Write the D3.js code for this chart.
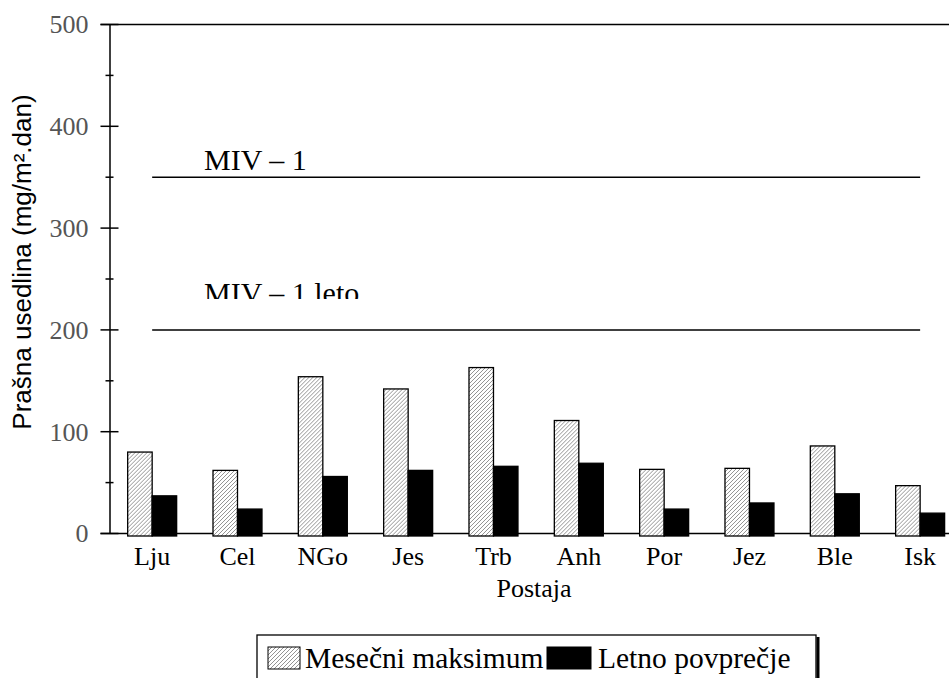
<!DOCTYPE html>
<html>
<head>
<meta charset="utf-8">
<script src="https://cdn.jsdelivr.net/npm/d3@7"></script>
<style>
  body { margin: 0; background: #fff; }
  svg { display: block; }
</style>
</head>
<body>
<script>
// data
let stations = ["Lju", "Cel", "NGo", "Jes", "Trb", "Anh", "Por", "Jez", "Ble", "Isk"];
let mesecniMax = [80, 62, 154, 142, 163, 111, 63, 64, 86, 47];
let letnoPovp = [37, 24, 56, 62, 66, 69, 24, 30, 39, 20];
let seriesNames = ["Mesečni maksimum", "Letno povprečje"];
let limitValues = [350, 200];
let limitLabels = ["MIV – 1", "MIV – 1 leto"];
let majorTicks = [0, 100, 200, 300, 400, 500];
let minorTicks = [50, 150, 250, 350, 450];

let svg = d3.select("body").append("svg")
	.attr("width", 949)
	.attr("height", 678);

let serif = "'Liberation Serif', 'Times New Roman', serif";
let sans = "'Liberation Sans', Arial, sans-serif";

//hatch pattern for the monthly maximum
let defs = svg.append("defs");
let pat = defs.append("pattern")
	.attr("id", "hatch")
	.attr("patternUnits", "userSpaceOnUse")
	.attr("width", 4)
	.attr("height", 4);
pat.append("rect").attr("width", 4).attr("height", 4).attr("fill", "#fff");
pat.append("path")
	.attr("d", "M-1,1 l2,-2 M0,4 l4,-4 M3,5 l2,-2")
	.attr("stroke", "#777")
	.attr("stroke-width", 0.8);

let plotLeft = 109.5, plotTop = 24.5, plotBottom = 533.5;

let y = d3.scaleLinear().domain([0, 500]).range([plotBottom, plotTop]);

let x0 = d3.scaleBand()
	.domain(stations)
	.range([plotLeft, plotLeft + 853.3])
	.paddingInner(0.426)
	.paddingOuter(0.213);

let x1 = d3.scaleBand()
	.domain(seriesNames)
	.range([0, x0.bandwidth()]);

let fills = ["url(#hatch)", "#000"];

let rows = stations.map((s, i) => ({ station: s, values: [mesecniMax[i], letnoPovp[i]] }));

//frame lines: top and the baseline
svg.append("line")
	.attr("x1", plotLeft - 9).attr("x2", 949)
	.attr("y1", y(500)).attr("y2", y(500))
	.attr("stroke", "#000").attr("stroke-width", 1.5);
svg.append("line")
	.attr("x1", plotLeft - 9).attr("x2", 949)
	.attr("y1", y(0)).attr("y2", y(0))
	.attr("stroke", "#000").attr("stroke-width", 1.5);

//y axis with major ticks crossing the line
let yAxis = d3.axisLeft(y)
	.tickValues(majorTicks)
	.tickSize(0)
	.tickPadding(21)
	.tickFormat(d3.format("d"));
let yG = svg.append("g")
	.attr("transform", `translate(${plotLeft},0)`)
	.call(yAxis);
yG.select(".domain").attr("stroke", "#000").attr("stroke-width", 1.5);
yG.selectAll("text")
	.attr("font-family", serif)
	.attr("font-size", 26)
	.attr("fill", "#555");

yG.selectAll(".major").data(majorTicks).enter().append("line")
	.attr("x1", -9).attr("x2", 9)
	.attr("y1", d => y(d)).attr("y2", d => y(d))
	.attr("stroke", "#000").attr("stroke-width", 1.5);
yG.selectAll(".minor").data(minorTicks).enter().append("line")
	.attr("x1", -4).attr("x2", 4)
	.attr("y1", d => y(d)).attr("y2", d => y(d))
	.attr("stroke", "#000").attr("stroke-width", 1.5);

//limit lines
let lineStart = x0(stations[0]) + x0.bandwidth() / 2;
let lineEnd = x0(stations[stations.length - 1]) + x0.bandwidth() / 2;
svg.selectAll(".limit").data(limitValues).enter().append("line")
	.attr("x1", lineStart).attr("x2", lineEnd)
	.attr("y1", d => y(d)).attr("y2", d => y(d))
	.attr("stroke", "#000").attr("stroke-width", 1.5);

defs.append("clipPath").attr("id", "letoClip")
	.append("rect")
	.attr("x", 0).attr("y", 0)
	.attr("width", 949).attr("height", y(200) - 31);

svg.append("text")
	.attr("x", 204).attr("y", y(350) - 7)
	.attr("font-family", serif).attr("font-size", 30)
	.text(limitLabels[0]);
svg.append("text")
	.attr("x", 204).attr("y", y(200) - 27)
	.attr("font-family", serif).attr("font-size", 30)
	.attr("clip-path", "url(#letoClip)")
	.text(limitLabels[1]);

//bars
let groups = svg.selectAll(".grp").data(rows).enter().append("g")
	.attr("transform", d => `translate(${x0(d.station)},0)`);
groups.selectAll("rect").data(d => d.values.map((v, i) => ({ key: seriesNames[i], value: v, i: i })))
	.enter().append("rect")
	.attr("x", d => x1(d.key))
	.attr("y", d => y(d.value))
	.attr("width", x1.bandwidth())
	.attr("height", d => y(0) - y(d.value) + 2.5)
	.attr("fill", d => fills[d.i])
	.attr("stroke", "#000")
	.attr("stroke-width", 1.3);

//x axis labels
let xAxis = d3.axisBottom(x0).tickSize(0).tickPadding(13);
let xG = svg.append("g")
	.attr("transform", `translate(0,${y(0)})`)
	.call(xAxis);
xG.select(".domain").remove();
xG.selectAll("text")
	.attr("font-family", serif)
	.attr("font-size", 26)
	.attr("fill", "#000");

svg.append("text")
	.attr("x", 534).attr("y", 597)
	.attr("text-anchor", "middle")
	.attr("font-family", serif).attr("font-size", 26)
	.text("Postaja");

svg.append("text")
	.attr("transform", "translate(31,262) rotate(-90)")
	.attr("text-anchor", "middle")
	.attr("font-family", sans).attr("font-size", 26)
	.text("Prašna usedlina (mg/m².dan)");

//legend
let lg = svg.append("g");
lg.append("rect")
	.attr("x", 257).attr("y", 635)
	.attr("width", 559).attr("height", 60)
	.attr("fill", "#fff").attr("stroke", "#000").attr("stroke-width", 1.3);
lg.append("line")
	.attr("x1", 818).attr("x2", 818).attr("y1", 637).attr("y2", 678)
	.attr("stroke", "#000").attr("stroke-width", 3);

let legendX = [268, 547];
let entries = lg.selectAll(".entry").data(seriesNames).enter().append("g")
	.attr("transform", (d, i) => `translate(${legendX[i]},647)`);
entries.append("rect")
	.attr("width", (d, i) => i === 0 ? 32 : 44)
	.attr("height", 22)
	.attr("fill", (d, i) => fills[i])
	.attr("stroke", "#000").attr("stroke-width", 1);
entries.append("text")
	.attr("x", (d, i) => i === 0 ? 37 : 51)
	.attr("y", 21)
	.attr("font-family", serif).attr("font-size", 29.5)
	.text(d => d);
</script>
</body>
</html>
